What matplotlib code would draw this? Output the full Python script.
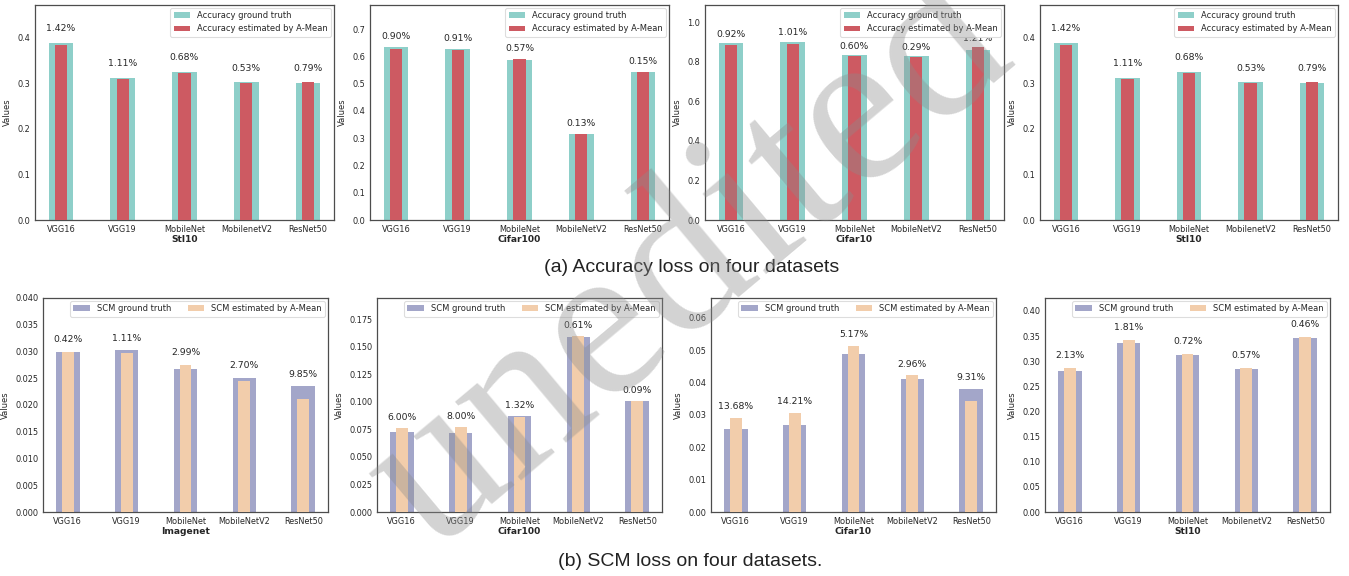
import numpy as np
import matplotlib
matplotlib.use("Agg")
import matplotlib.pyplot as plt

# ---- data ----
models_v2 = ["VGG16", "VGG19", "MobileNet", "MobileNetV2", "ResNet50"]
models_v2_lower = ["VGG16", "VGG19", "MobileNet", "MobilenetV2", "ResNet50"]

# (a) accuracy loss
acc_stl10_gt = [0.389, 0.3115, 0.3247, 0.302, 0.2998]
acc_stl10_est = [0.384, 0.3086, 0.3218, 0.3006, 0.302]
acc_stl10_pct = ["1.42%", "1.11%", "0.68%", "0.53%", "0.79%"]

acc_cifar100_gt = [0.633, 0.628, 0.586, 0.315, 0.5424]
acc_cifar100_est = [0.627, 0.623, 0.590, 0.315, 0.5424]
acc_cifar100_pct = ["0.90%", "0.91%", "0.57%", "0.13%", "0.15%"]

acc_cifar10_gt = [0.894, 0.902, 0.835, 0.828, 0.862]
acc_cifar10_est = [0.885, 0.893, 0.830, 0.826, 0.873]
acc_cifar10_pct = ["0.92%", "1.01%", "0.60%", "0.29%", "1.21%"]

# (b) SCM loss
scm_imagenet_gt = [0.0300, 0.0302, 0.0267, 0.0251, 0.0235]
scm_imagenet_est = [0.0299, 0.0298, 0.0275, 0.0244, 0.0211]
scm_imagenet_pct = ["0.42%", "1.11%", "2.99%", "2.70%", "9.85%"]

scm_cifar100_gt = [0.0724, 0.0715, 0.0870, 0.1588, 0.1006]
scm_cifar100_est = [0.0767, 0.0772, 0.0859, 0.1598, 0.1007]
scm_cifar100_pct = ["6.00%", "8.00%", "1.32%", "0.61%", "0.09%"]

scm_cifar10_gt = [0.0255, 0.0269, 0.0488, 0.0410, 0.0379]
scm_cifar10_est = [0.0290, 0.0307, 0.0513, 0.0422, 0.0344]
scm_cifar10_pct = ["13.68%", "14.21%", "5.17%", "2.96%", "9.31%"]

scm_stl10_gt = [0.2805, 0.3355, 0.3123, 0.2851, 0.3462]
scm_stl10_est = [0.2865, 0.3416, 0.3145, 0.2867, 0.3475]
scm_stl10_pct = ["2.13%", "1.81%", "0.72%", "0.57%", "0.46%"]

# colours
acc_gt_color = "#8ECFC9"
acc_est_color = "#CD5A62"
scm_gt_color = "#A3A6C9"
scm_est_color = "#F2CDAB"

plt.rcParams["font.family"] = "DejaVu Sans"
plt.rcParams["text.color"] = "#262626"
plt.rcParams["axes.labelcolor"] = "#262626"
plt.rcParams["xtick.color"] = "#262626"
plt.rcParams["ytick.color"] = "#262626"

W, H = 1349, 576
fig = plt.figure(figsize=(W / 100, H / 100), dpi=100)


def px_axes(x0, x1, ytop, ybot):
    return fig.add_axes([x0 / W, 1 - ybot / H, (x1 - x0) / W, (ybot - ytop) / H])


def panel(ax, names, gt, est, pct, dataset, ylim, yticks, fmt, off,
          gt_color, est_color, gt_label, est_label, ncol):
    x = np.arange(len(names))
    ax.bar(x, gt, width=0.4, color=gt_color, label=gt_label, zorder=2)
    ax.bar(x, est, width=0.2, color=est_color, label=est_label, zorder=3)
    for i in range(len(names)):
        top = max(gt[i], est[i])
        ax.text(x[i], top + off, pct[i], ha="center", va="center", fontsize=6.7)
    ax.set_ylim(0, ylim)
    ax.set_yticks(yticks)
    ax.set_yticklabels([fmt.format(t) for t in yticks])
    ax.set_xticks(x)
    ax.set_xticklabels(names)
    ax.tick_params(length=0, labelsize=5.9, pad=3.5)
    ax.set_ylabel("Values", fontsize=6)
    ax.set_xlabel(dataset, fontsize=6.6, fontweight="bold", labelpad=1)
    for s in ax.spines.values():
        s.set_color("#4d4d4d")
        s.set_linewidth(0.9)
    leg = ax.legend(loc="upper right", fontsize=6, ncol=ncol,
                    borderaxespad=0.35, fancybox=True, framealpha=1)
    leg.get_frame().set_edgecolor("#dddddd")
    leg.get_frame().set_linewidth(0.8)


acc_labels = ("Accuracy ground truth", "Accuracy estimated by A-Mean")
scm_labels = ("SCM ground truth", "SCM estimated by A-Mean")

# top row
ax = px_axes(35, 334, 5, 220)
panel(ax, models_v2_lower, acc_stl10_gt, acc_stl10_est, acc_stl10_pct, "Stl10",
      0.472, np.arange(0, 0.41, 0.1), "{:.1f}", 0.031,
      acc_gt_color, acc_est_color, *acc_labels, 1)
ax = px_axes(370, 669, 5, 220)
panel(ax, models_v2, acc_cifar100_gt, acc_cifar100_est, acc_cifar100_pct, "Cifar100",
      0.788, np.arange(0, 0.71, 0.1), "{:.1f}", 0.039,
      acc_gt_color, acc_est_color, *acc_labels, 1)
ax = px_axes(705, 1004, 5, 220)
panel(ax, models_v2, acc_cifar10_gt, acc_cifar10_est, acc_cifar10_pct, "Cifar10",
      1.088, np.arange(0, 1.01, 0.2), "{:.1f}", 0.0455,
      acc_gt_color, acc_est_color, *acc_labels, 1)
ax = px_axes(1040, 1338, 5, 220)
panel(ax, models_v2_lower, acc_stl10_gt, acc_stl10_est, acc_stl10_pct, "Stl10",
      0.472, np.arange(0, 0.41, 0.1), "{:.1f}", 0.031,
      acc_gt_color, acc_est_color, *acc_labels, 1)

# bottom row
ax = px_axes(43, 328, 298, 512)
panel(ax, models_v2, scm_imagenet_gt, scm_imagenet_est, scm_imagenet_pct, "Imagenet",
      0.040, np.arange(0, 0.0401, 0.005), "{:.3f}", 0.00225,
      scm_gt_color, scm_est_color, *scm_labels, 2)
ax = px_axes(377, 662, 298, 512)
panel(ax, models_v2, scm_cifar100_gt, scm_cifar100_est, scm_cifar100_pct, "Cifar100",
      0.1945, np.arange(0, 0.176, 0.025), "{:.3f}", 0.0095,
      scm_gt_color, scm_est_color, *scm_labels, 2)
ax = px_axes(711, 996, 298, 512)
panel(ax, models_v2, scm_cifar10_gt, scm_cifar10_est, scm_cifar10_pct, "Cifar10",
      0.0661, np.arange(0, 0.061, 0.01), "{:.2f}", 0.0035,
      scm_gt_color, scm_est_color, *scm_labels, 2)
ax = px_axes(1045, 1330, 298, 512)
panel(ax, models_v2_lower, scm_stl10_gt, scm_stl10_est, scm_stl10_pct, "Stl10",
      0.4257, np.arange(0, 0.401, 0.05), "{:.2f}", 0.025,
      scm_gt_color, scm_est_color, *scm_labels, 2)

# captions
fig.text(692 / W, 1 - 268 / H, "(a) Accuracy loss on four datasets",
         ha="center", va="center", fontsize=14, family="Liberation Sans", color="#222222")
fig.text(690 / W, 1 - 561 / H, "(b) SCM loss on four datasets.",
         ha="center", va="center", fontsize=14, family="Liberation Sans", color="#222222")

# watermark
fig.text(690 / W, 1 - 265 / H, "unedited", ha="center", va="center", rotation=40,
         rotation_mode="anchor", fontsize=160, family="Liberation Serif",
         color="#8c8c8c", alpha=0.38, zorder=10)

fig.savefig("out.png", dpi=100)
